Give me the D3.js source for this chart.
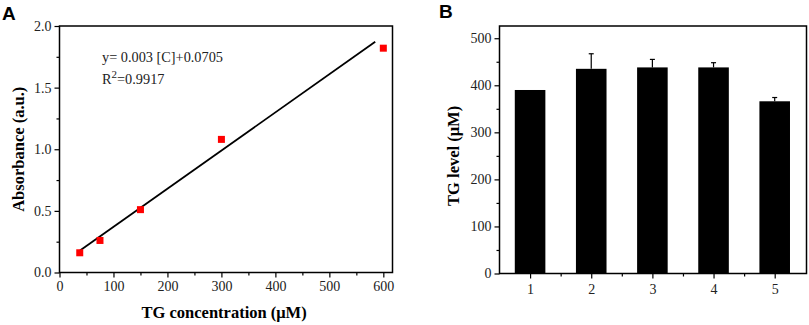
<!DOCTYPE html>
<html lang="en">
<head>
<meta charset="UTF-8">
<title>TG calibration and levels</title>
<script src="https://d3js.org/d3.v7.min.js"></script>
<style>
  body { margin: 0; background: #fff; }
  svg text { font-family: "Liberation Serif", "Times New Roman", serif; }
</style>
</head>
<body>
<script>
    // Panel A: calibration points
    var concentration = [37.5, 75, 150, 300, 600];
    var absorbance = [0.16, 0.26, 0.51, 1.08, 1.82];
    // fitted line at its ends
    var fitX = [38, 585];
    var fitY = [0.178, 1.872];
    var xTicksA = [0, 100, 200, 300, 400, 500, 600];
    var yTicksA = [0, 0.5, 1.0, 1.5, 2.0];

    // Panel B: TG level per sample
    var samples = [1, 2, 3, 4, 5];
    var tgLevel = [390, 435, 438, 438, 366];
    var tgError = [0, 32, 17, 10, 8];
    var yTicksB = [0, 100, 200, 300, 400, 500];

    var width = 809, height = 325;
    var serif = "'Liberation Serif', 'Times New Roman', serif";

    var svg = d3.select("body").append("svg")
        .attr("width", width)
        .attr("height", height);

    function styleAxis(a) {
        a.select(".domain").remove();
        a.attr("font-family", serif);
        a.selectAll("text").attr("font-size", 14).attr("fill", "#222")
            .attr("font-family", serif);
    }

    // ---------- Panel A ----------
    var xA = d3.scaleLinear().domain([0, 617]).range([59.5, 392.5]);
    var yA = d3.scaleLinear().domain([0, 2.0]).range([272.5, 26]);

    var gA = svg.append("g");

    gA.append("rect")
        .attr("x", xA.range()[0]).attr("y", yA.range()[1])
        .attr("width", xA.range()[1] - xA.range()[0])
        .attr("height", yA.range()[0] - yA.range()[1])
        .attr("fill", "none").attr("stroke", "#000").attr("stroke-width", 1.5);

    // minor ticks
    gA.append("g")
        .attr("transform", "translate(0," + yA(0) + ")")
        .call(d3.axisBottom(xA).tickValues(d3.range(50, 600, 100)).tickSize(3).tickFormat(""))
        .call(function(g) { g.select(".domain").remove(); });
    gA.append("g")
        .attr("transform", "translate(" + xA(0) + ",0)")
        .call(d3.axisLeft(yA).tickValues([0.25, 0.75, 1.25, 1.75]).tickSize(3).tickFormat(""))
        .call(function(g) { g.select(".domain").remove(); });

    var axA = gA.append("g")
        .attr("transform", "translate(0," + yA(0) + ")")
        .call(d3.axisBottom(xA).tickValues(xTicksA).tickSize(5).tickPadding(4).tickFormat(d3.format("d")));
    var ayA = gA.append("g")
        .attr("transform", "translate(" + xA(0) + ",0)")
        .call(d3.axisLeft(yA).tickValues(yTicksA).tickSize(5).tickPadding(3).tickFormat(d3.format(".1f")));

    styleAxis(axA);
    styleAxis(ayA);
    gA.selectAll(".tick line").attr("stroke", "#000").attr("stroke-width", 1.2);

    // fit line
    gA.append("line")
        .attr("x1", xA(fitX[0])).attr("y1", yA(fitY[0]))
        .attr("x2", xA(fitX[1])).attr("y2", yA(fitY[1]))
        .attr("stroke", "#000").attr("stroke-width", 1.8);

    // points
    gA.selectAll(".pt")
        .data(concentration)
        .enter().append("rect")
        .attr("class", "pt")
        .attr("x", function(d) { return xA(d) - 3.5; })
        .attr("y", function(d, i) { return yA(absorbance[i]) - 3.5; })
        .attr("width", 7).attr("height", 7)
        .attr("fill", "#ff0000");

    // equation
    gA.append("text")
        .attr("x", 102).attr("y", 62)
        .attr("font-size", 14.3).attr("fill", "#222")
        .text("y= 0.003 [C]+0.0705");
    var r2 = gA.append("text")
        .attr("x", 102).attr("y", 84)
        .attr("font-size", 14.3).attr("fill", "#222");
    r2.append("tspan").text("R");
    r2.append("tspan").attr("dy", -6).attr("font-size", 11).text("2");
    r2.append("tspan").attr("dy", 6).text("=0.9917");

    gA.append("text")
        .attr("x", xA(305)).attr("y", 318)
        .attr("text-anchor", "middle")
        .attr("font-size", 16.5).attr("font-weight", "bold")
        .text("TG concentration (\u03bcM)");
    gA.append("text")
        .attr("transform", "translate(24," + yA(1.0) + ") rotate(-90)")
        .attr("text-anchor", "middle")
        .attr("font-size", 16.5).attr("font-weight", "bold")
        .text("Absorbance (a.u.)");

    svg.append("text")
        .attr("x", 2).attr("y", 20)
        .attr("font-size", 19).attr("font-weight", "bold")
        .style("font-family", "Arial, 'Liberation Sans', sans-serif")
        .text("A");

    // ---------- Panel B ----------
    var xB = d3.scaleLinear().domain([0.5, 5.52]).range([499.5, 806.5]);
    var yB = d3.scaleLinear().domain([0, 526]).range([273.5, 26]);
    var barW = xB(1.5) - xB(1);

    var gB = svg.append("g");

    gB.append("rect")
        .attr("x", xB.range()[0]).attr("y", yB.range()[1])
        .attr("width", xB.range()[1] - xB.range()[0])
        .attr("height", yB.range()[0] - yB.range()[1])
        .attr("fill", "none").attr("stroke", "#000").attr("stroke-width", 1.5);

    gB.append("g")
        .attr("transform", "translate(0," + yB(0) + ")")
        .call(d3.axisBottom(xB).tickValues([1.5, 2.5, 3.5, 4.5]).tickSize(3).tickFormat(""))
        .call(function(g) { g.select(".domain").remove(); });
    gB.append("g")
        .attr("transform", "translate(" + xB(0.5) + ",0)")
        .call(d3.axisLeft(yB).tickValues([50, 150, 250, 350, 450]).tickSize(3).tickFormat(""))
        .call(function(g) { g.select(".domain").remove(); });

    var axB = gB.append("g")
        .attr("transform", "translate(0," + yB(0) + ")")
        .call(d3.axisBottom(xB).tickValues(samples).tickSize(5).tickPadding(6).tickFormat(d3.format("d")));
    var ayB = gB.append("g")
        .attr("transform", "translate(" + xB(0.5) + ",0)")
        .call(d3.axisLeft(yB).tickValues(yTicksB).tickSize(5).tickPadding(3).tickFormat(d3.format("d")));

    styleAxis(axB);
    styleAxis(ayB);
    gB.selectAll(".tick line").attr("stroke", "#000").attr("stroke-width", 1.2);

    // error bars (upper only)
    gB.selectAll(".err")
        .data(samples)
        .enter().append("line")
        .attr("class", "err")
        .attr("x1", function(d) { return xB(d); })
        .attr("x2", function(d) { return xB(d); })
        .attr("y1", function(d, i) { return yB(tgLevel[i]); })
        .attr("y2", function(d, i) { return yB(tgLevel[i] + tgError[i]); })
        .attr("stroke", "#000").attr("stroke-width", 1.2);
    gB.selectAll(".cap")
        .data(samples.filter(function(d, i) { return tgError[i] > 0; }))
        .enter().append("line")
        .attr("class", "cap")
        .attr("x1", function(d) { return xB(d) - 2.5; })
        .attr("x2", function(d) { return xB(d) + 2.5; })
        .attr("y1", function(d) { var i = samples.indexOf(d); return yB(tgLevel[i] + tgError[i]); })
        .attr("y2", function(d) { var i = samples.indexOf(d); return yB(tgLevel[i] + tgError[i]); })
        .attr("stroke", "#000").attr("stroke-width", 1.2);

    gB.selectAll(".bar")
        .data(samples)
        .enter().append("rect")
        .attr("class", "bar")
        .attr("x", function(d) { return xB(d) - barW / 2; })
        .attr("y", function(d, i) { return yB(tgLevel[i]); })
        .attr("width", barW)
        .attr("height", function(d, i) { return yB(0) - yB(tgLevel[i]); })
        .attr("fill", "#000");

    gB.append("text")
        .attr("transform", "translate(459," + yB(250) + ") rotate(-90)")
        .attr("text-anchor", "middle")
        .attr("font-size", 16.5).attr("font-weight", "bold")
        .text("TG level (\u03bcM)");

    svg.append("text")
        .attr("x", 439).attr("y", 18)
        .attr("font-size", 19).attr("font-weight", "bold")
        .style("font-family", "Arial, 'Liberation Sans', sans-serif")
        .text("B");
</script>
</body>
</html>
